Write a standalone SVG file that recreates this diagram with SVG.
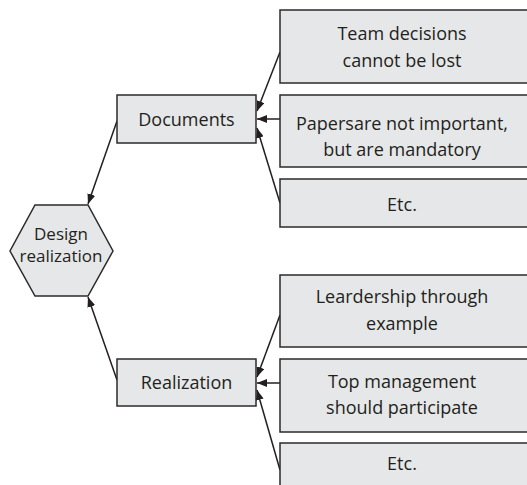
<svg xmlns="http://www.w3.org/2000/svg" width="527" height="485" viewBox="0 0 527 485">
<style>
.box{fill:#e6e7e8;stroke:#2b2b2b;stroke-width:1.5}
.t{font-family:"Open Sans","Noto Sans",sans-serif;font-size:18px;fill:#231f20;text-anchor:middle}
.h{font-size:17px}
.c{stroke:#231f20;stroke-width:1.5;fill:none;marker-end:url(#ah)}
</style>
<defs>
<marker id="ah" viewBox="0 0 10 8" refX="10" refY="4" markerWidth="10" markerHeight="8" markerUnits="userSpaceOnUse" orient="auto">
<path d="M0,0 L10,4 L0,8 Z" fill="#231f20"/>
</marker>
</defs>
<rect width="527" height="485" fill="#ffffff"/>
<g id="connectors">
<line class="c" x1="117" y1="121" x2="88" y2="204"/>
<line class="c" x1="117" y1="380" x2="88" y2="297"/>
<line class="c" x1="280" y1="52" x2="257" y2="111"/>
<line class="c" x1="280" y1="119" x2="257" y2="119"/>
<line class="c" x1="280" y1="203" x2="257" y2="128"/>
<line class="c" x1="280" y1="315" x2="257" y2="377"/>
<line class="c" x1="280" y1="383" x2="257" y2="383"/>
<line class="c" x1="280" y1="470" x2="257" y2="390"/>
</g>
<g id="design-realization">
<polygon class="box" points="35,205 88,205 113,251 88,296 35,296 10,251"/>
<text class="t h" x="61" y="240">Design</text>
<text class="t h" x="61" y="262">realization</text>
</g>
<g id="documents">
<rect class="box" x="117" y="95" width="139" height="48"/>
<text class="t" x="186.5" y="126">Documents</text>
</g>
<g id="realization">
<rect class="box" x="117" y="359" width="139" height="47"/>
<text class="t" x="186.5" y="389">Realization</text>
</g>
<g id="team-decisions">
<rect class="box" x="280" y="10" width="260" height="73"/>
<text class="t" x="402" y="40">Team decisions</text>
<text class="t" x="402" y="67">cannot be lost</text>
</g>
<g id="papers">
<rect class="box" x="280" y="95" width="260" height="72"/>
<text class="t" x="402" y="130">Papersare not important,</text>
<text class="t" x="402" y="156">but are mandatory</text>
</g>
<g id="etc-1">
<rect class="box" x="280" y="179" width="260" height="48"/>
<text class="t" x="402" y="211">Etc.</text>
</g>
<g id="leadership">
<rect class="box" x="280" y="275" width="260" height="72"/>
<text class="t" x="402" y="303">Leardership through</text>
<text class="t" x="402" y="330">example</text>
</g>
<g id="top-management">
<rect class="box" x="280" y="359" width="260" height="73"/>
<text class="t" x="402" y="388">Top management</text>
<text class="t" x="402" y="414">should participate</text>
</g>
<g id="etc-2">
<rect class="box" x="280" y="443" width="260" height="60"/>
<text class="t" x="402" y="470">Etc.</text>
</g>
</svg>
